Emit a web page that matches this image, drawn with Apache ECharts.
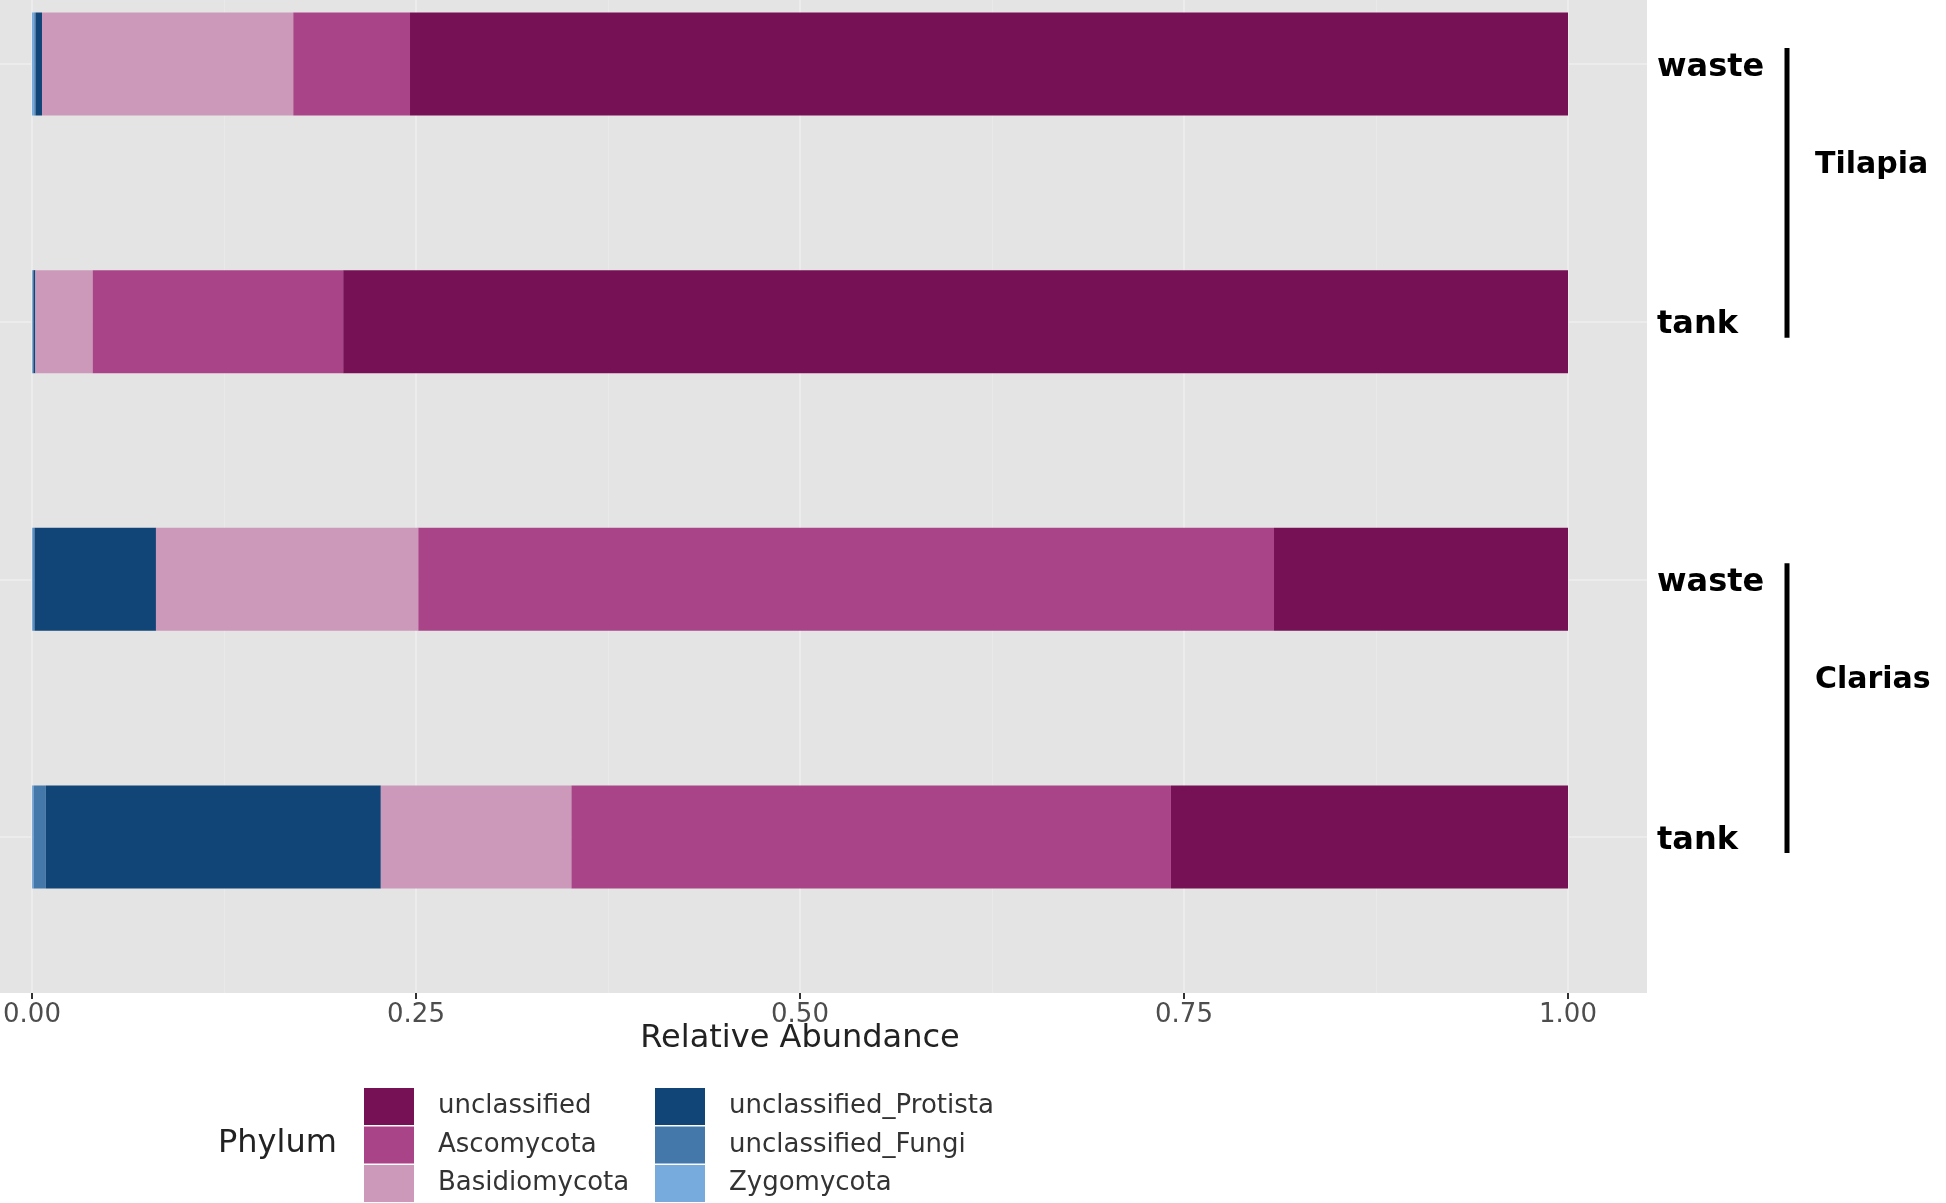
<!DOCTYPE html>
<html><head><meta charset="utf-8">
<script src="https://cdn.jsdelivr.net/npm/echarts@6/dist/echarts.min.js"></script>
<style>html,body{margin:0;padding:0;background:#fff}#c{width:1946px;height:1203px}</style>
</head><body><div id="c"></div>
<script>
// ---- data ----
const categories = ['Tilapia|waste', 'Tilapia|tank', 'Clarias|waste', 'Clarias|tank'];
const groupNames = ['Tilapia', 'Clarias'];
const groupSpans = [[0, 1], [2, 3]];
const xTicks = [0, 0.25, 0.5, 0.75, 1];
const legendCol1 = ['unclassified', 'Ascomycota', 'Basidiomycota'];
const legendCol2 = ['unclassified_Protista', 'unclassified_Fungi', 'Zygomycota'];
// stacking order left -> right
const zygomycota = [0.0015, 0.0005, 0.0008, 0.001];
const unclassifiedFungi = [0.001, 0.0005, 0.001, 0.008];
const unclassifiedProtista = [0.004, 0.0012, 0.0789, 0.2181];
const basidiomycota = [0.1636, 0.0373, 0.1708, 0.1241];
const ascomycota = [0.076, 0.1631, 0.5571, 0.3903];
const unclassified = [0.7539, 0.7974, 0.1914, 0.2585];

const seriesDefs = [
  ['Zygomycota', zygomycota, '#77AADD'],
  ['unclassified_Fungi', unclassifiedFungi, '#4477AA'],
  ['unclassified_Protista', unclassifiedProtista, '#114477'],
  ['Basidiomycota', basidiomycota, '#CC99BB'],
  ['Ascomycota', ascomycota, '#AA4488'],
  ['unclassified', unclassified, '#771155']
];

const FONT = 'DejaVu Sans';
const chart = echarts.init(document.getElementById('c'));

const series = seriesDefs.map(([name, vals, color]) => ({
  name, type: 'bar', stack: 'total', data: vals,
  xAxisIndex: 3, yAxisIndex: 3, barWidth: 103,
  itemStyle: { color }, emphasis: { disabled: true }, z: 3
}));

series.push({
  name: 'groups', type: 'custom', xAxisIndex: 3, yAxisIndex: 3, clip: false, z: 5,
  encode: { x: 0, y: [1, 2] },
  data: groupSpans.map(s => [1, s[0], s[1]]),
  renderItem: function (params, api) {
    const p0 = api.coord([1, api.value(1)]);
    const p1 = api.coord([1, api.value(2)]);
    const x = p0[0] + 219;
    const y0 = p0[1] - 16, y1 = p1[1] + 16;
    const mid = (y0 + y1) / 2 - 28;
    return {
      type: 'group', children: [
        { type: 'line', shape: { x1: x, y1: y0, x2: x, y2: y1 }, style: { stroke: '#000', lineWidth: 5 } },
        { type: 'text', style: { text: groupNames[params.dataIndex], x: x + 28, y: mid, verticalAlign: 'middle', align: 'left',
          font: 'bold 30px "' + FONT + '"', fill: '#000' } }
      ]
    };
  }
});

const legendBase = {
  orient: 'vertical', itemWidth: 50, itemHeight: 37, itemGap: 1.5, padding: 0, icon: 'rect',
  top: 1088, selectedMode: false,
  textStyle: { fontFamily: FONT, fontSize: 26, color: '#333', padding: [0, 0, 0, 19] }
};

const option = {
  animation: false,
  backgroundColor: '#fff',
  title: { text: 'Phylum', left: 218, top: 1128, padding: 0,
    textStyle: { fontFamily: FONT, fontSize: 32, fontWeight: 'normal', color: '#222' } },
  legend: [
    Object.assign({}, legendBase, { left: 364, data: legendCol1 }),
    Object.assign({}, legendBase, { left: 655, data: legendCol2 })
  ],
  grid: [
    { left: 0, top: 0, width: 1647, height: 993, show: true, backgroundColor: '#E4E4E4', borderWidth: 0, outerBoundsMode: 'none' },
    { left: 0, top: 64, width: 1647, height: 773, outerBoundsMode: 'none' },
    { left: 32, top: 0, width: 1536, height: 993, outerBoundsMode: 'none' },
    { left: 32, top: 64, width: 1536, height: 773, outerBoundsMode: 'none' }
  ],
  xAxis: [
    { gridIndex: 0, type: 'value', show: false },
    { gridIndex: 1, type: 'value', show: false },
    { gridIndex: 2, type: 'value', min: 0, max: 1, interval: 0.25,
      name: 'Relative Abundance', nameLocation: 'middle', nameGap: 46, nameMoveOverlap: false,
      nameTextStyle: { fontFamily: FONT, fontSize: 32, color: '#222', verticalAlign: 'middle' },
      axisLine: { show: false },
      axisTick: { show: true, length: 6, lineStyle: { color: '#333', width: 2 } },
      axisLabel: { margin: 9, fontFamily: FONT, fontSize: 26, color: '#4D4D4D', formatter: v => v.toFixed(2) },
      splitLine: { show: true, lineStyle: { color: '#ECECEC', width: 2 } },
      minorTick: { show: false, splitNumber: 2 },
      minorSplitLine: { show: true, lineStyle: { color: '#E9E9E9', width: 1 } } },
    { gridIndex: 3, type: 'value', min: 0, max: 1, show: false }
  ],
  yAxis: [
    { gridIndex: 0, type: 'value', show: false },
    { gridIndex: 1, type: 'category', data: categories, inverse: true, boundaryGap: false,
      axisLine: { show: false }, axisTick: { show: false }, axisLabel: { show: false },
      splitLine: { show: true, lineStyle: { color: '#ECECEC', width: 2 } } },
    { gridIndex: 2, type: 'value', show: false },
    { gridIndex: 3, type: 'category', data: categories, inverse: true, boundaryGap: false, position: 'right',
      axisLine: { show: false }, axisTick: { show: false }, splitLine: { show: false },
      axisLabel: { margin: 89, align: 'left', color: '#000',
        formatter: v => '{s|' + v.split('|')[1] + '}',
        rich: { s: { fontFamily: FONT, fontSize: 32, fontWeight: 'bold', color: '#000', padding: [7, 0, 0, 0] } } } }
  ],
  series
};
chart.setOption(option);
</script></body></html>
